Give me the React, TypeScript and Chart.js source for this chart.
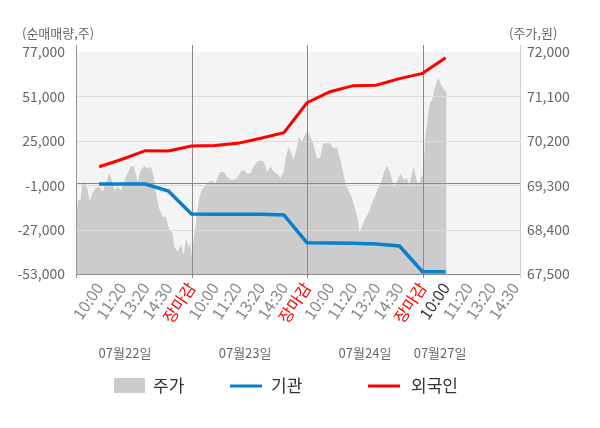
import React, { useEffect, useRef } from 'react';
import { Chart, registerables } from 'chart.js';

Chart.register(...registerables);

// ---- data ----
const xTickPositions = [1, 2, 3, 4, 5, 6, 7, 8, 9, 10, 11, 12, 13, 14, 15, 16, 17, 18, 19];
const xTickLabels = [
  '10:00', '11:20', '13:20', '14:30', '장마감',
  '10:00', '11:20', '13:20', '14:30', '장마감',
  '10:00', '11:20', '13:20', '14:30', '장마감',
  '10:00', '11:20', '13:20', '14:30',
];
const currentTickIndex = 15;
const separatorPositions = [5, 10, 15];
const dateLabels = ['07월22일', '07월23일', '07월24일', '07월27일'];
const datePositions = [2.12, 7.32, 12.51, 15.76];

const leftTicks = [-53000, -27000, -1000, 25000, 51000, 77000];
const rightTicks = [67500, 68400, 69300, 70200, 71100, 72000];

const flowPositions = [1, 2, 3, 4, 5, 6, 7, 8, 9, 10, 11, 12, 13, 14, 15, 16];
const institution = [-300, -300, -300, -4400, -17900, -18000, -18000, -18000, -18400, -34700, -34900, -35000, -35400, -36600, -51700, -51700];
const foreign = [9800, 14200, 19200, 19000, 21950, 22200, 23500, 26500, 29800, 47300, 53750, 57300, 57500, 61400, 64500, 73700];

const priceX = [
  0, 0.09, 0.2, 0.27, 0.42, 0.52, 0.59, 0.71, 0.85, 1.0, 1.15, 1.3, 1.44, 1.54, 1.66, 1.8, 1.95, 2.09, 2.23, 2.38,
  2.52, 2.66, 2.81, 2.95, 3.1, 3.24, 3.36, 3.46, 3.6, 3.75, 3.89, 4.04, 4.18, 4.25, 4.4, 4.54, 4.66, 4.77, 4.9,
  4.94, 5.01, 5.13, 5.23, 5.33, 5.44, 5.59, 5.74, 5.89, 6.03, 6.18, 6.25, 6.39, 6.54, 6.68, 6.83, 6.97, 7.12, 7.26,
  7.4, 7.55, 7.69, 7.84, 7.98, 8.13, 8.27, 8.42, 8.56, 8.7, 8.85, 8.99, 9.09, 9.21, 9.32, 9.42, 9.57, 9.64, 9.78, 9.93,
  10.05, 10.13, 10.27, 10.42, 10.56, 10.7, 10.85, 11.0, 11.15, 11.29, 11.36, 11.48, 11.58, 11.65, 11.79, 11.94, 12.08,
  12.2, 12.27, 12.37, 12.52, 12.66, 12.81, 12.96, 13.08, 13.22, 13.36, 13.47, 13.61, 13.75, 13.9, 14.04, 14.19, 14.33,
  14.43, 14.55, 14.62, 14.72, 14.83, 14.98, 15.03,
  15.11, 15.18, 15.25, 15.32, 15.42, 15.51, 15.61, 15.71, 15.8, 15.9, 16.0, 16.04,
];
const priceY = [
  68700, 69000, 69000, 69370, 69340, 69170, 68980, 69140, 69240, 69270, 69170, 69340, 69550, 69410, 69200, 69270, 69200, 69370, 69540, 69690,
  69680, 69370, 69610, 69690, 69640, 69680, 69470, 69140, 68830, 68660, 68660, 68390, 68330, 68050, 67950, 68090, 67890, 68220, 68020,
  68160, 67850, 68330, 68660, 69040, 69200, 69300, 69370, 69390, 69340, 69510, 69570, 69570, 69470, 69410, 69410, 69440, 69570, 69610,
  69540, 69540, 69680, 69780, 69800, 69780, 69570, 69680, 69570, 69540, 69440, 69570, 69880, 70080, 69950, 69810, 70080, 70280, 70180, 70350,
  70390, 70280, 70150, 69850, 69850, 70150, 70150, 70150, 70050, 70080, 69950, 69750, 69510, 69370, 69200, 69040, 68830,
  68600, 68330, 68460, 68630, 68730, 68940, 69100, 69240, 69370, 69610, 69690, 69540, 69270, 69370, 69540, 69410, 69440,
  69300, 69540, 69680, 69440, 69300, 69510, 69470,
  70220, 70490, 70760, 70960, 71030, 71230, 71400, 71470, 71330, 71270, 71200, 71200,
];

const legendLabels = ['주가', '기관', '외국인'];
const seriesColors = ['#cccccc', '#0a80cc', '#ff0000'];

const FONT = "'Noto Sans CJK KR', 'Noto Sans', sans-serif";

const overlayPlugin = {
  id: 'overlay',
  beforeDraw(chart: any) {
    const { ctx, chartArea: a } = chart;
    ctx.save();
    ctx.fillStyle = '#f4f4f4';
    ctx.fillRect(a.left, a.top, a.right - a.left, a.bottom - a.top);
    ctx.restore();
  },
  afterDatasetDraw(chart: any, args: any) {
    if (args.index !== 0) return;
    const { ctx, chartArea: a, scales } = chart;
    const yS = scales.y;
    const xS = scales.x;
    ctx.save();
    ctx.lineWidth = 1;
    ctx.strokeStyle = '#dcdcdc';
    leftTicks.forEach((v) => {
      if (v === leftTicks[0] || v === leftTicks[leftTicks.length - 1]) return;
      const y = Math.round(yS.getPixelForValue(v)) + 0.5;
      ctx.beginPath();
      ctx.moveTo(a.left, y);
      ctx.lineTo(a.right, y);
      ctx.stroke();
    });
    ctx.strokeStyle = '#8a8a8a';
    const y0 = Math.round(yS.getPixelForValue(0)) + 0.5;
    ctx.beginPath();
    ctx.moveTo(a.left, y0);
    ctx.lineTo(a.right, y0);
    ctx.stroke();
    separatorPositions.forEach((p) => {
      const x = Math.round(xS.getPixelForValue(p)) + 0.5;
      ctx.beginPath();
      ctx.moveTo(x, a.top - 7);
      ctx.lineTo(x, a.bottom + 4);
      ctx.stroke();
    });
    ctx.strokeStyle = '#999999';
    const xl = Math.round(a.left) + 0.5;
    ctx.beginPath();
    ctx.moveTo(xl, a.top - 7);
    ctx.lineTo(xl, a.bottom + 4);
    ctx.stroke();
    ctx.strokeStyle = '#8a8a8a';
    const yb = Math.round(a.bottom) + 0.5;
    ctx.beginPath();
    ctx.moveTo(a.left, yb);
    ctx.lineTo(a.right, yb);
    ctx.stroke();
    ctx.strokeStyle = '#cfcfcf';
    const xr = Math.round(a.right) + 0.5;
    ctx.beginPath();
    ctx.moveTo(xr, a.top - 7);
    ctx.lineTo(xr, a.bottom + 4);
    ctx.stroke();
    ctx.restore();
  },
  afterDraw(chart: any) {
    const { ctx, scales } = chart;
    const xS = scales.x;
    ctx.save();
    ctx.font = `13px ${FONT}`;
    ctx.fillStyle = '#666666';
    ctx.textBaseline = 'middle';
    ctx.textAlign = 'left';
    ctx.fillText('(순매매량,주)', 22, 33);
    ctx.fillText('(주가,원)', 509, 33);
    ctx.textAlign = 'center';
    dateLabels.forEach((d, i) => {
      ctx.fillText(d, xS.getPixelForValue(datePositions[i]), 353);
    });
    ctx.textAlign = 'left';
    ctx.font = `17px ${FONT}`;
    ctx.fillStyle = seriesColors[0];
    ctx.fillRect(114, 378, 31, 15);
    ctx.lineWidth = 3;
    ctx.strokeStyle = seriesColors[1];
    ctx.beginPath();
    ctx.moveTo(230, 386);
    ctx.lineTo(262, 386);
    ctx.stroke();
    ctx.strokeStyle = seriesColors[2];
    ctx.beginPath();
    ctx.moveTo(368, 386);
    ctx.lineTo(400, 386);
    ctx.stroke();
    ctx.fillStyle = '#333333';
    ctx.fillText(legendLabels[0], 153, 386);
    ctx.fillText(legendLabels[1], 271, 386);
    ctx.fillText(legendLabels[2], 411, 386);
    ctx.restore();
  },
};

const fmt = (v: any) => Number(v).toLocaleString('en-US');

export default function App() {
  const ref = useRef<HTMLCanvasElement>(null);
  useEffect(() => {
    if (!ref.current) return;
    Chart.defaults.font.family = FONT;
    const chart = new Chart(ref.current, {
      type: 'line',
      data: {
        datasets: [
          {
            label: legendLabels[0],
            data: priceX.map((x, i) => ({ x, y: priceY[i] })),
            yAxisID: 'y2',
            borderWidth: 0,
            borderColor: seriesColors[0],
            backgroundColor: seriesColors[0],
            fill: 'start',
            pointRadius: 0,
            tension: 0,
            order: 3,
          },
          {
            label: legendLabels[1],
            data: flowPositions.map((x, i) => ({ x, y: institution[i] })),
            yAxisID: 'y',
            borderWidth: 3.5,
            borderColor: seriesColors[1],
            backgroundColor: seriesColors[1],
            fill: false,
            pointRadius: 0,
            tension: 0,
            order: 2,
          },
          {
            label: legendLabels[2],
            data: flowPositions.map((x, i) => ({ x, y: foreign[i] })),
            yAxisID: 'y',
            borderWidth: 3,
            borderColor: seriesColors[2],
            backgroundColor: seriesColors[2],
            fill: false,
            pointRadius: 0,
            tension: 0,
            order: 1,
          },
        ],
      },
      options: {
        animation: false,
        responsive: true,
        maintainAspectRatio: false,
        layout: { padding: { top: 52, left: 0, right: 0, bottom: 0 } },
        plugins: { legend: { display: false }, tooltip: { enabled: false } },
        scales: {
          x: {
            type: 'linear',
            min: 0,
            max: 19.22,
            afterBuildTicks: (s: any) => {
              s.ticks = xTickPositions.map((v) => ({ value: v }));
            },
            afterFit: (s: any) => {
              s.height = 154;
            },
            grid: { display: false, drawTicks: false },
            border: { display: false },
            ticks: {
              autoSkip: false,
              minRotation: 56,
              maxRotation: 56,
              padding: 5,
              font: { size: 16 },
              color: (c: any) =>
                xTickLabels[c.index] === '장마감' ? '#ff0000' : c.index === currentTickIndex ? '#333333' : '#888888',
              callback: (_v: any, i: number) => xTickLabels[i],
            },
          },
          y: {
            position: 'left',
            min: leftTicks[0],
            max: leftTicks[leftTicks.length - 1],
            afterBuildTicks: (s: any) => {
              s.ticks = leftTicks.map((v) => ({ value: v }));
            },
            afterFit: (s: any) => {
              s.width = 76;
            },
            grid: { display: false, drawTicks: false },
            border: { display: false },
            ticks: { padding: 11, font: { size: 14 }, color: '#666666', callback: fmt },
          },
          y2: {
            position: 'right',
            min: rightTicks[0],
            max: rightTicks[rightTicks.length - 1],
            afterBuildTicks: (s: any) => {
              s.ticks = rightTicks.map((v) => ({ value: v }));
            },
            afterFit: (s: any) => {
              s.width = 80;
            },
            grid: { display: false, drawTicks: false },
            border: { display: false },
            ticks: { padding: 7, font: { size: 14 }, color: '#666666', callback: fmt },
          },
        },
      },
      plugins: [overlayPlugin],
    });
    return () => chart.destroy();
  }, []);

  return (
    <div style={{ position: 'absolute', left: 0, top: 0, width: 600, height: 428 }}>
      <canvas ref={ref} />
    </div>
  );
}
